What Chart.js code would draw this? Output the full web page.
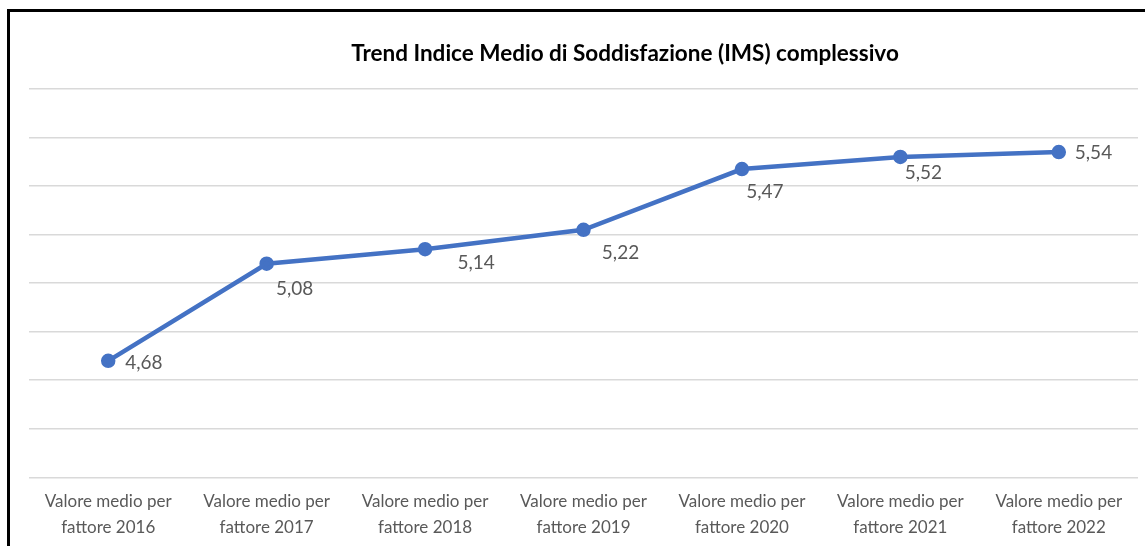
<!DOCTYPE html>
<html lang="it">
<head>
  <meta charset="UTF-8">
  <title>Trend IMS</title>
  <script src="https://cdn.jsdelivr.net/npm/chart.js"></script>
  <style>
    * { margin: 0; padding: 0; box-sizing: border-box; }
    body { background: #fff; width: 1145px; height: 546px; overflow: hidden; position: relative; }
    .frame {
      position: absolute; left: 7px; top: 9px; width: 1300px; height: 600px;
      border-top: 3px solid #000; border-left: 3px solid #000;
    }
    .wrap { position: absolute; left: 10px; top: 12px; width: 1230px; height: 532px; }
  </style>
</head>
<body>
  <div class="frame"></div>
  <div class="wrap"><canvas id="chart"></canvas></div>
  <script>
    const categories = [
      ['Valore medio per', 'fattore 2016'],
      ['Valore medio per', 'fattore 2017'],
      ['Valore medio per', 'fattore 2018'],
      ['Valore medio per', 'fattore 2019'],
      ['Valore medio per', 'fattore 2020'],
      ['Valore medio per', 'fattore 2021'],
      ['Valore medio per', 'fattore 2022']
    ];
    const imsValues = [4.68, 5.08, 5.14, 5.22, 5.47, 5.52, 5.54];

    // where each value label sits relative to its point
    const labelDx = [17, 28, 51, 37, 23, 23, 16];
    const labelDy = [2, 25, 14, 23, 23, 16, 1];
    const labelAlign = ['left', 'center', 'center', 'center', 'center', 'center', 'left'];

    const valueLabels = {
      id: 'valueLabels',
      afterDatasetsDraw(chart) {
        const ctx = chart.ctx;
        const meta = chart.getDatasetMeta(0);
        ctx.save();
        ctx.font = '19px Lato';
        ctx.fillStyle = '#595959';
        ctx.textBaseline = 'middle';
        meta.data.forEach((pt, i) => {
          ctx.textAlign = labelAlign[i];
          const txt = imsValues[i].toFixed(2).replace('.', ',');
          ctx.fillText(txt, pt.x + labelDx[i], pt.y + labelDy[i]);
        });
        ctx.restore();
      }
    };

    new Chart(document.getElementById('chart'), {
      type: 'line',
      data: {
        labels: categories,
        datasets: [{
          data: imsValues,
          borderColor: '#4472C4',
          backgroundColor: '#4472C4',
          borderWidth: 4.5,
          pointRadius: 5,
          pointHoverRadius: 5,
          tension: 0
        }]
      },
      options: {
        responsive: true,
        maintainAspectRatio: false,
        animation: false,
        layout: { padding: 0 },
        plugins: {
          legend: { display: false },
          tooltip: { enabled: false },
          title: {
            display: true,
            text: 'Trend Indice Medio di Soddisfazione (IMS) complessivo',
            color: '#000',
            font: { family: 'Lato', size: 22.5, weight: 'bold' },
            padding: { top: 28, bottom: 22 }
          }
        },
        scales: {
          x: {
            offset: true,
            grid: { display: false },
            border: { display: false },
            ticks: {
              color: '#595959',
              font: { family: 'Lato', size: 17, lineHeight: 1.55 },
              maxRotation: 0,
              autoSkip: false,
              padding: 3
            }
          },
          y: {
            min: 4.2,
            max: 5.8,
            afterFit: s => { s.width = 19; },
            ticks: { display: false, stepSize: 0.2 },
            border: { display: false },
            grid: { color: '#d9d9d9', lineWidth: 1.5, drawTicks: false }
          },
          yRight: {
            position: 'right',
            afterFit: s => { s.width = 102; },
            ticks: { display: false },
            border: { display: false },
            grid: { display: false }
          }
        }
      },
      plugins: [valueLabels]
    });
  </script>
</body>
</html>
